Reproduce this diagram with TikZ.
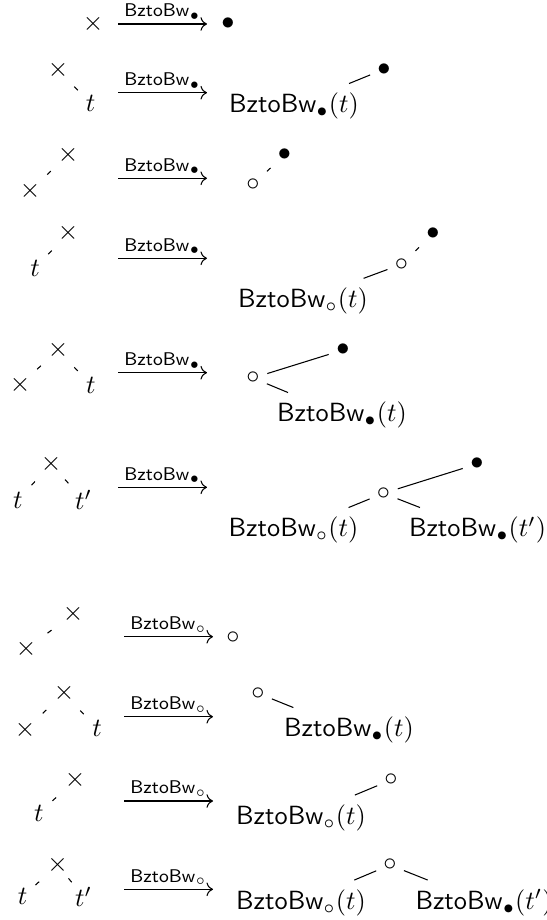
\documentclass[tikz,border=0pt]{standalone}
\usepackage{amsmath}
\usetikzlibrary{arrows.meta,decorations.markings}
\newcommand{\Bz}{\mathsf{BztoBw}}

\begin{document}
\begin{tikzpicture}[x=3.8pt,y=3.8pt,
    dot/.style={circle,inner sep=0pt,minimum size=11pt},
    stub/.style={decoration={markings,mark=at position 0.5 with {\draw (-0.95pt,0) -- (0.95pt,0);}},decorate},
    lbl/.style={above,inner sep=1.5pt,font=\scriptsize}]
  \useasboundingbox (0,0) rectangle (54.6,-92);

  \node (R1) at (9.3,-2.4) {$\times$};
  \coordinate (s1) at (11.8,-2.4);
  \coordinate (e1) at (20.7,-2.4);
  \draw[->] (s1) -- node[lbl] {$\Bz_\bullet$} (e1);
  \node[dot] (O1) at (22.8,-2.4) {$\bullet$};

  \node (R2) at (5.8,-7.0) {$\times$};
  \node (A2) at (9.05,-10.33) {$t$};
  \path (R2) edge[stub] (A2);
  \coordinate (s2) at (11.8,-9.27);
  \coordinate (e2) at (20.7,-9.27);
  \draw[->] (s2) -- node[lbl] {$\Bz_\bullet$} (e2);
  \node[dot] (O2) at (38.4,-6.93) {$\bullet$};
  \node (P2) at (29.4,-10.6) {$\Bz_\bullet(t)$};
  \draw (O2) -- (P2);

  \node (R3) at (6.8,-15.5) {$\times$};
  \node (A3) at (3.0,-19.07) {$\times$};
  \path (R3) edge[stub] (A3);
  \coordinate (s3) at (11.8,-17.83);
  \coordinate (e3) at (20.7,-17.83);
  \draw[->] (s3) -- node[lbl] {$\Bz_\bullet$} (e3);
  \node[dot] (O3) at (28.45,-15.5) {$\bullet$};
  \node[dot] (P3) at (25.3,-18.43) {$\circ$};
  \path (O3) edge[stub] (P3);

  \node (R4) at (6.8,-23.33) {$\times$};
  \node (A4) at (3.5,-26.83) {$t$};
  \path (R4) edge[stub] (A4);
  \coordinate (s4) at (11.8,-25.83);
  \coordinate (e4) at (20.7,-25.83);
  \draw[->] (s4) -- node[lbl] {$\Bz_\bullet$} (e4);
  \node[dot] (O4) at (43.3,-23.4) {$\bullet$};
  \node[dot] (P4) at (40.15,-26.43) {$\circ$};
  \node (Q4) at (30.3,-30.08) {$\Bz_\circ(t)$};
  \path (O4) edge[stub] (P4);
  \draw (P4) -- (Q4);

  \node (R5) at (5.8,-35.0) {$\times$};
  \node (A5) at (2.0,-38.5) {$\times$};
  \node (B5) at (9.1,-38.5) {$t$};
  \path (R5) edge[stub] (A5) edge[stub] (B5);
  \coordinate (s5) at (11.8,-37.27);
  \coordinate (e5) at (20.7,-37.27);
  \draw[->] (s5) -- node[lbl] {$\Bz_\bullet$} (e5);
  \node[dot] (O5) at (25.3,-37.8) {$\circ$};
  \node[dot] (P5) at (34.3,-35.0) {$\bullet$};
  \node (Q5) at (34.2,-41.5) {$\Bz_\bullet(t)$};
  \draw (O5) edge (P5) edge (Q5);

  \node (R6) at (5.1,-46.4) {$\times$};
  \node (A6) at (1.8,-50.0) {$t$};
  \node (B6) at (8.35,-50.0) {$t'$};
  \path (R6) edge[stub] (A6) edge[stub] (B6);
  \coordinate (s6) at (11.8,-48.73);
  \coordinate (e6) at (20.7,-48.73);
  \draw[->] (s6) -- node[lbl] {$\Bz_\bullet$} (e6);
  \node[dot] (O6) at (38.35,-49.33) {$\circ$};
  \node[dot] (P6) at (47.7,-46.4) {$\bullet$};
  \node (Q6) at (29.35,-53.0) {$\Bz_\circ(t)$};
  \node (U6) at (47.75,-53.0) {$\Bz_\bullet(t')$};
  \draw (O6) edge (P6) edge (Q6) edge (U6);

  \node (R7) at (7.3,-61.4) {$\times$};
  \node (A7) at (2.6,-64.93) {$\times$};
  \path (R7) edge[stub] (A7);
  \coordinate (s7) at (12.4,-63.67);
  \coordinate (e7) at (21.3,-63.67);
  \draw[->] (s7) -- node[lbl] {$\Bz_\circ$} (e7);
  \node[dot] (O7) at (23.3,-63.73) {$\circ$};

  \node (R8) at (6.4,-69.33) {$\times$};
  \node (A8) at (2.5,-73.0) {$\times$};
  \node (B8) at (9.7,-72.83) {$t$};
  \path (R8) edge[stub] (A8) edge[stub] (B8);
  \coordinate (s8) at (12.4,-71.67);
  \coordinate (e8) at (21.3,-71.67);
  \draw[->] (s8) -- node[lbl] {$\Bz_\circ$} (e8);
  \node[dot] (O8) at (25.8,-69.33) {$\circ$};
  \node (Q8) at (34.9,-73.0) {$\Bz_\bullet(t)$};
  \draw (O8) -- (Q8);

  \node (R9) at (7.5,-78.0) {$\times$};
  \node (A9) at (3.9,-81.33) {$t$};
  \path (R9) edge[stub] (A9);
  \coordinate (s9) at (12.4,-80.1);
  \coordinate (e9) at (21.3,-80.1);
  \draw[->] (s9) -- node[lbl] {$\Bz_\circ$} (e9);
  \node[dot] (O9) at (39.1,-78.0) {$\circ$};
  \node (P9) at (30.1,-81.75) {$\Bz_\circ(t)$};
  \draw (O9) -- (P9);

  \node (R10) at (5.75,-86.5) {$\times$};
  \node (A10) at (2.26,-89.67) {$t$};
  \node (B10) at (8.36,-89.67) {$t'$};
  \path (R10) edge[stub] (A10) edge[stub] (B10);
  \coordinate (s10) at (12.4,-88.93);
  \coordinate (e10) at (21.3,-88.93);
  \draw[->] (s10) -- node[lbl] {$\Bz_\circ$} (e10);
  \node[dot] (O10) at (39.0,-86.5) {$\circ$};
  \node (P10) at (30.1,-90.25) {$\Bz_\circ(t)$};
  \node (Q10) at (48.4,-90.25) {$\Bz_\bullet(t')$};
  \draw (O10) edge (P10) edge (Q10);
\end{tikzpicture}
\end{document}
